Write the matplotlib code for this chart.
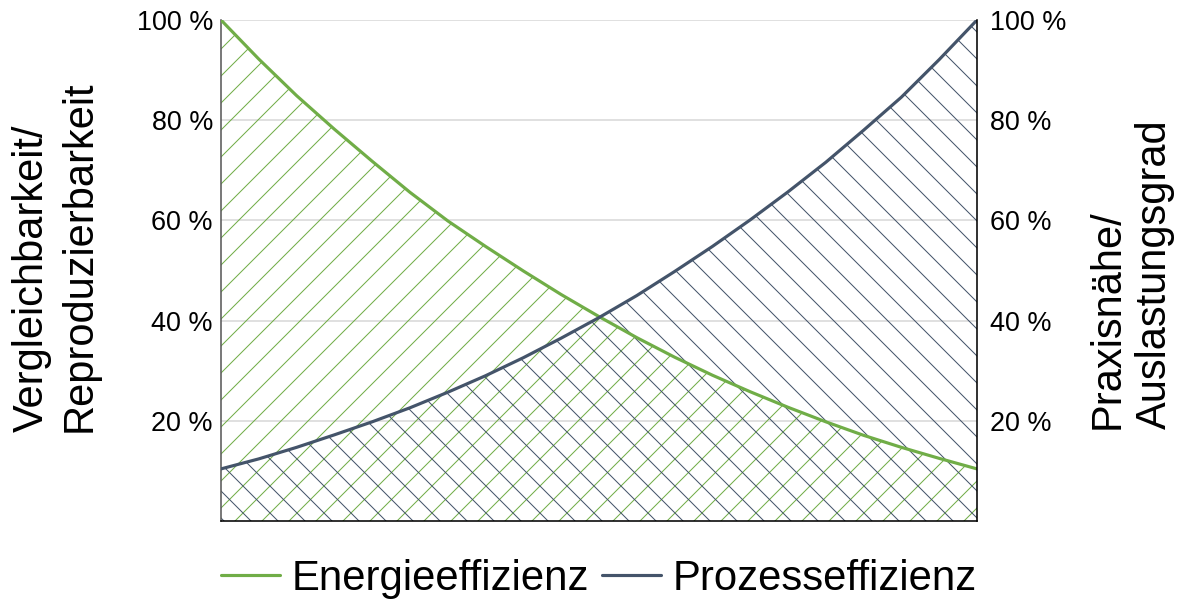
import numpy as np
import matplotlib
matplotlib.use("Agg")
import matplotlib.pyplot as plt

# ---- data ----
x_pos = [0.00, 0.05, 0.10, 0.15, 0.20, 0.25, 0.30, 0.35, 0.40, 0.45, 0.50,
         0.55, 0.60, 0.65, 0.70, 0.75, 0.80, 0.85, 0.90, 0.95, 1.00]
energie = [100.0, 92.2, 84.9, 78.2, 71.8, 65.6, 59.9, 54.8, 49.9, 45.2, 40.8,
           36.6, 32.7, 29.1, 25.8, 22.7, 19.8, 17.1, 14.7, 12.5, 10.4]
prozess = [10.4, 12.4, 14.7, 17.2, 19.8, 22.6, 25.7, 29.0, 32.6, 36.5, 40.6,
           45.0, 49.8, 54.8, 60.1, 65.7, 71.6, 78.0, 84.6, 92.1, 100.0]
series_names = ["Energieeffizienz", "Prozesseffizienz"]
y_ticks = [20, 40, 60, 80, 100]
y_tick_labels = ["20 %", "40 %", "60 %", "80 %", "100 %"]
left_label = "Vergleichbarkeit/\nReproduzierbarkeit"
right_label = "Praxisnähe/\nAuslastungsgrad"

GREEN = "#70ad47"
BLUE = "#44546a"

DPI = 162
plt.rcParams["font.family"] = ["Liberation Sans", "DejaVu Sans"]
plt.rcParams["hatch.linewidth"] = 0.45

fig = plt.figure(figsize=(1188 / DPI, 602 / DPI), dpi=DPI)
L, R, T, B = 221 / 1188, 977 / 1188, 1 - 20 / 602, 1 - 521 / 602
ax = fig.add_axes([L, B, R - L, T - B])

ax.fill_between(x_pos, 0, energie, facecolor="none", edgecolor=GREEN,
                hatch="//", linewidth=0, zorder=1)
ax.fill_between(x_pos, 0, prozess, facecolor="none", edgecolor=BLUE,
                hatch="\\\\", linewidth=0, zorder=1)
l1, = ax.plot(x_pos, energie, color=GREEN, lw=1.4, zorder=3,
              label=series_names[0], solid_capstyle="round", solid_joinstyle="round")
l2, = ax.plot(x_pos, prozess, color=BLUE, lw=1.4, zorder=3,
              label=series_names[1], solid_capstyle="round", solid_joinstyle="round")

ax.set_xlim(0, 1)
ax.set_ylim(0, 100)
ax.set_xticks([])
ax.set_yticks(y_ticks)
ax.set_yticklabels(y_tick_labels, fontsize=12)
ax.tick_params(axis="y", length=0, pad=3.6)
ax.grid(axis="y", color="#d9d9d9", lw=0.7, zorder=0)
ax.set_axisbelow(True)
for s in ["top", "right"]:
    ax.spines[s].set_visible(False)
ax.spines["left"].set_color("#595959")
ax.spines["left"].set_linewidth(0.7)
ax.spines["bottom"].set_color("#000000")
ax.spines["bottom"].set_linewidth(0.7)

ax2 = ax.twinx()
ax2.set_ylim(0, 100)
ax2.set_yticks(y_ticks)
ax2.set_yticklabels(y_tick_labels, fontsize=12)
ax2.tick_params(axis="y", length=0, pad=6.0)
for s in ["top", "left", "bottom"]:
    ax2.spines[s].set_visible(False)
ax2.spines["right"].set_color("#000000")
ax2.spines["right"].set_linewidth(0.7)

fig.text(56 / 1188, 1 - 256 / 602, left_label, rotation=90, ha="center",
         va="center", multialignment="left", fontsize=18.5, linespacing=1.25)
fig.text(1131 / 1188, 1 - 274 / 602, right_label, rotation=90, ha="center",
         va="center", multialignment="left", fontsize=18.5, linespacing=1.25)

fig.legend(handles=[l1, l2], loc="center", bbox_to_anchor=(599 / 1188, 1 - 579 / 602),
           ncol=2, frameon=False, fontsize=18.6, handlelength=1.42,
           handletextpad=0.28, columnspacing=0.3, borderpad=0, borderaxespad=0)

fig.savefig("out.png", dpi=DPI)
